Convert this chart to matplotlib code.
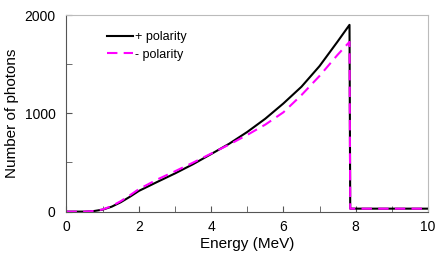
import numpy as np
import matplotlib
matplotlib.use("Agg")
import matplotlib.pyplot as plt

plt.rcParams['font.family'] = ['Liberation Sans', 'DejaVu Sans']

# Photon spectrum (energy in MeV)
energy = [0, 0.5, 0.75, 1.0, 1.25, 1.5, 1.75, 2.0, 2.5, 3.0, 3.5, 4.0, 4.5,
          5.0, 5.5, 6.0, 6.5, 7.0, 7.5, 7.83, 7.85, 10.0]
plus_pol = [0, 0, 5, 20, 50, 95, 150, 210, 300, 388, 482, 585, 690,
            810, 945, 1100, 1270, 1480, 1730, 1900, 30, 30]
minus_pol = [0, 0, 6, 22, 56, 106, 165, 228, 325, 410, 498, 590, 682,
             780, 885, 1010, 1185, 1380, 1595, 1727, 30, 30]

fig = plt.figure(figsize=(4.36, 2.59), dpi=100)
ax = fig.add_axes([0.1525, 0.183, 0.829, 0.759])

ax.plot(energy, plus_pol, color="black", lw=1.5, label="+ polarity")
ax.plot(energy, minus_pol, color="#ff00ff", lw=1.5, ls=(0, (5, 3)), label="- polarity")

ax.set_xlim(0, 10)
ax.set_ylim(0, 2000)
ax.set_xticks([0, 2, 4, 6, 8, 10])
ax.set_xticks(np.arange(0, 11, 1), minor=True)
ax.set_yticks([0, 1000, 2000])
ax.set_yticks([500, 1500], minor=True)
ax.tick_params(which="both", direction="in", color="#555555", labelsize=10, pad=6)
ax.tick_params(which="major", length=4)
ax.tick_params(which="minor", length=4)
ax.tick_params(axis="y", pad=8)

for s in ["left", "bottom"]:
    ax.spines[s].set_color("#555555")
for s in ["top", "right"]:
    ax.spines[s].set_color("#bbbbbb")

ax.set_xlabel("Energy (MeV)", fontsize=11, labelpad=2)
ax.set_ylabel("Number of photons", fontsize=11, labelpad=4)

ax.legend(loc="upper left", bbox_to_anchor=(0.08, 0.975), frameon=False,
          fontsize=9, handlelength=2.1, handletextpad=0.2, labelspacing=0.45)

fig.savefig("out.png", dpi=100)
